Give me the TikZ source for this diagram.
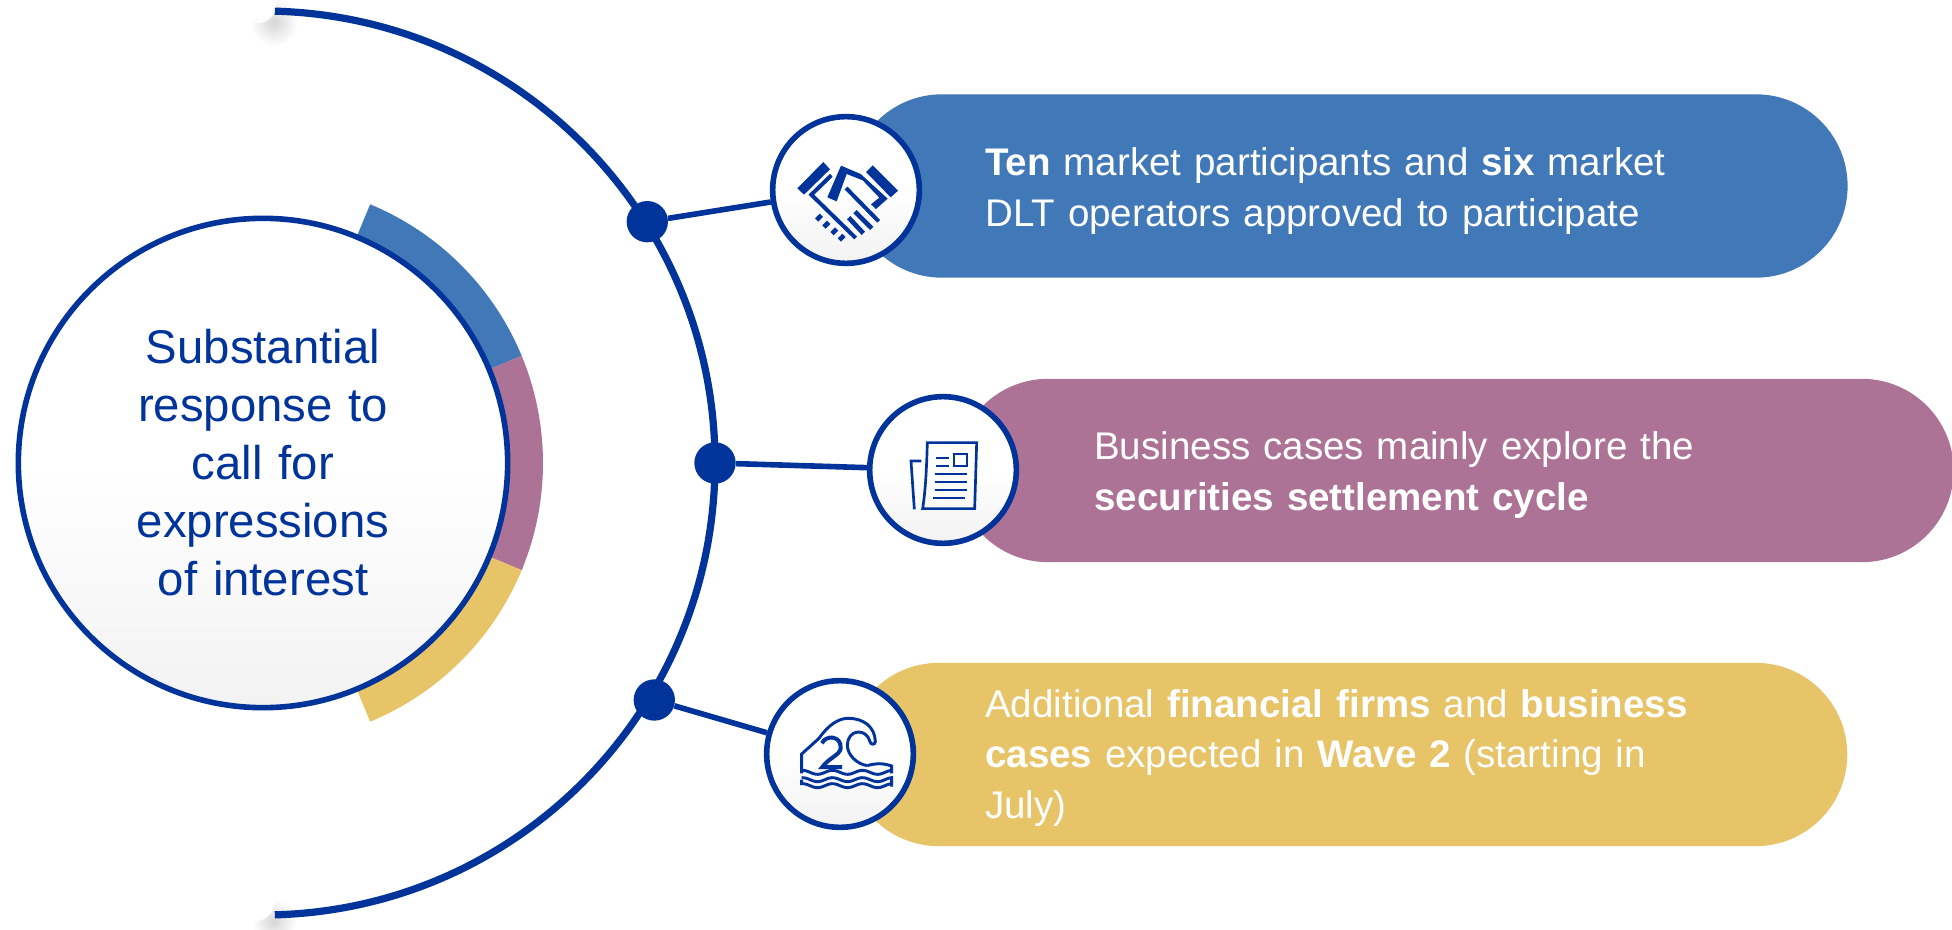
\documentclass[tikz,border=0pt]{standalone}
\usepackage{fontspec}
\setmainfont{Liberation Sans}
\usetikzlibrary{calc}
\definecolor{navy}{HTML}{00349A}
\definecolor{blueA}{HTML}{4178B8}
\definecolor{plumB}{HTML}{AD7396}
\definecolor{goldC}{HTML}{E8C468}
\pgfdeclareverticalshading{circfade}{100bp}{color(0bp)=(black!5);color(25bp)=(black!5);color(50bp)=(white);color(100bp)=(white)}
\tikzset{
  hub/.style={circle,draw=navy,line width=4.2pt,shading=circfade,inner sep=0pt,minimum size=367pt,
    text=navy,align=center,text width=240pt,font=\fontsize{35.5}{43.5}\selectfont},
  icon/.style={circle,draw=navy,line width=4.2pt,shading=circfade,minimum size=110pt},
  dot/.style={circle,fill=navy,inner sep=0pt,minimum size=31pt},
  pill/.style={rectangle,fill=#1,minimum height=137.5pt,rounded corners=68.7pt,anchor=west},
  pilltext/.style={text=white,anchor=west,align=left,inner sep=0pt,text width=#1,
    font=\fontsize{28.9}{38.2}\selectfont},
  link/.style={navy,line width=4.2pt},
  iconline/.style={navy,line width=2pt},
  glyph/.style={fill=navy,draw=none}
}
\begin{document}
\begin{tikzpicture}[x=0.75pt,y=0.75pt]
  \useasboundingbox (0,0) rectangle (1952,929);
  \def\R{452}
  \def\Q{280}
  \coordinate (O) at (263,466);

  % shadows behind the ends of the big arc
  \shade[inner color=black!16,outer color=white] (274,907) circle (24);
  \shade[inner color=black!16,outer color=white] (274,8) circle (22);
  \fill[white] (258,924) circle (18);
  \fill[white] (255,28) circle (20);

  % ring behind the hub
  \fill[blueA] (O) -- ($(O)+(67.5:\Q)$) arc (67.5:22.5:\Q) -- cycle;
  \fill[plumB] (O) -- ($(O)+(22.5:\Q)$) arc (22.5:-22.5:\Q) -- cycle;
  \fill[goldC] (O) -- ($(O)+(-22.5:\Q)$) arc (-22.5:-67.5:\Q) -- cycle;

  \node[hub] (hub) at (O) {Substantial\\response to\\call for\\expressions\\of interest};

  % big arc
  \draw[link,line width=5.4pt] ($(O)+(88.5:\R)$) arc (88.5:-88.5:\R);

  % three bars
  \node[pill=blueA,minimum width=748pt] (pillA) at (850,743) {};
  \node[pill=plumB,minimum width=748pt] (pillB) at (956,458.5) {};
  \node[pill=goldC,minimum width=750pt] (pillC) at (847,174.5) {};

  \node[pilltext=560pt] (textA) at (985,737.5) {\textbf{Ten} market participants and \textbf{six} market\\DLT operators approved to participate};
  \node[pilltext=560pt] (textB) at (1094,454.3) {Business cases mainly explore the\\\textbf{securities settlement cycle}};
  \node[pilltext=560pt] (textC) at (985,171) {Additional \textbf{financial firms} and \textbf{business}\\\textbf{cases} expected in \textbf{Wave 2} (starting in\\July)};

  \node[dot] (dotA) at (647.3,707.3) {};
  \node[dot] (dotB) at ($(O)+(0:\R)$) {};
  \node[dot] (dotC) at (654.3,229) {};

  \node[icon] (iconA) at (846,739) {};
  \node[icon] (iconB) at (943,459) {};
  \node[icon] (iconC) at (840,175) {};

  \draw[link] (dotA) -- (iconA);
  \draw[link] (dotB) -- (iconB);
  \draw[link] (dotC) -- (iconC);

  % handshake
  \begin{scope}[shift={(740,829)},x=0.25pt,y=-0.25pt]
    \fill[glyph] (172,265) -- (250,186) -- (270,208) -- (192,284) -- cycle;
    \fill[glyph] (398,196) -- (474,272) -- (452,292) -- (378,216) -- cycle;
    \fill[glyph] (262,292) -- (303,197) -- (362,222) -- (443,296) -- (408,327) -- (393,313)
      -- (418,293) -- (368,241) -- (320,222) -- (290,304) -- cycle;
    \draw[iconline,line width=3pt] (274,226) -- (214,284) -- (347,414);
    \draw[iconline,line width=3pt] (318,264) -- (416,364);
    \draw[iconline,line width=3.5pt] (345,335) -- (395,385);
    \draw[iconline,line width=3.5pt] (326,353) -- (370,400);
    \foreach \px/\py in {237/353,259/374,283/394,305/413}
      \fill[glyph,rotate around={45:(\px,\py)}] (\px-10,\py-7) rectangle (\px+10,\py+7);
  \end{scope}

  % sheet of paper
  \begin{scope}[shift={(850,549)},x=0.25pt,y=-0.25pt]
    \draw[iconline] (232,188) -- (380,188) -- (374,386) -- (218,386) .. controls (228,320) and (230,250) .. cycle;
    \draw[iconline] (214,243) -- (183,243) -- (193,388);
    \draw[iconline,line width=1.6pt] (313,222) rectangle (350,258);
    \foreach \ly/\la/\lb in {234/258/298,258/258/298,282/256/352,306/256/352,330/254/350,354/250/346}
      \draw[iconline,line width=1.6pt] (\la,\ly) -- (\lb,\ly);
  \end{scope}

  % wave and the figure two
  \begin{scope}[shift={(750,259)},x=0.25pt,y=-0.25pt]
    \draw[iconline,line width=2.2pt] (155,310) -- (155,252) -- (207,205)
      .. controls (235,165) and (265,145) .. (295,145)
      .. controls (340,145) and (375,170) .. (376,215)
      .. controls (375,225) and (362,225) .. (360,215)
      .. controls (355,195) and (340,186) .. (325,186)
      .. controls (305,186) and (292,205) .. (292,225)
      .. controls (292,255) and (320,282) .. (352,287);
    \draw[iconline,line width=2.2pt] (352,287) .. controls (375,280) and (395,278) .. (425,288) -- (425,310);
    \draw[iconline,line width=3pt] (216,220) .. controls (225,195) and (275,195) .. (272,235)
      .. controls (270,255) and (235,265) .. (217,291) -- (276,291);
    \draw[iconline,line width=2.2pt] plot[domain=155:425,samples=40] (\x,{307+6*sin(4*\x)});
    \draw[iconline,line width=2.2pt] plot[domain=155:425,samples=40] (\x,{329+6*sin(4*\x)}) -- (425,350);
    \draw[iconline,line width=2.2pt] (155,329) -- plot[domain=155:425,samples=40] (\x,{347+6*sin(4*\x)});
  \end{scope}
\end{tikzpicture}
\end{document}
